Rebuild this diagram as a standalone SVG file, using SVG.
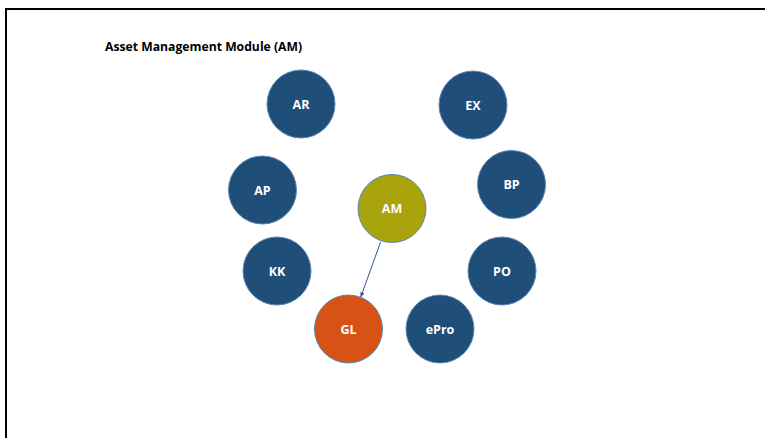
<svg xmlns="http://www.w3.org/2000/svg" width="765" height="438" viewBox="0 0 765 438">
<style>
.n{stroke:#5B86B5;stroke-width:1}
.blue{fill:#1F4E79}
.am{fill:#A9A30C}
.gl{fill:#D85216}
.lbl{font-family:"Open Sans","Liberation Sans",sans-serif;font-weight:bold;font-size:12.5px;fill:#FFFFFF;text-anchor:middle}
.title{font-family:"Open Sans","Liberation Sans",sans-serif;font-weight:bold;font-size:12.2px;fill:#000000}
</style>
<defs>
<marker id="ah" viewBox="0 0 10 10" refX="9" refY="5" markerWidth="5" markerHeight="5" orient="auto">
<path d="M0,1 L10,5 L0,9 z" fill="#2F5597"/>
</marker>
</defs>
<rect width="765" height="438" fill="#FFFFFF"/>
<path d="M6,438 V9 H765" fill="none" stroke="#000000" stroke-width="2"/>
<text class="title" x="105" y="51">Asset Management Module (AM)</text>
<g id="connectors">
<line x1="380.7" y1="241.7" x2="360.8" y2="297" stroke="#2F5597" stroke-width="1" marker-end="url(#ah)"/>
</g>
<g id="AR"><circle class="n blue" cx="301" cy="104" r="34"/><text class="lbl" x="301" y="108.5">AR</text></g>
<g id="EX"><circle class="n blue" cx="473" cy="105" r="34"/><text class="lbl" x="473" y="109.5">EX</text></g>
<g id="AP"><circle class="n blue" cx="262.5" cy="190" r="34"/><text class="lbl" x="262.5" y="194.5">AP</text></g>
<g id="BP"><circle class="n blue" cx="511.5" cy="184.5" r="34"/><text class="lbl" x="511.5" y="189">BP</text></g>
<g id="AM"><circle class="n am" cx="392" cy="208.5" r="34"/><text class="lbl" x="392" y="213">AM</text></g>
<g id="KK"><circle class="n blue" cx="277" cy="271" r="34"/><text class="lbl" x="277" y="275.5">KK</text></g>
<g id="PO"><circle class="n blue" cx="502" cy="271" r="34"/><text class="lbl" x="502" y="275.5">PO</text></g>
<g id="GL"><circle class="n gl" cx="348.5" cy="329" r="34"/><text class="lbl" x="348.5" y="333.5">GL</text></g>
<g id="ePro"><circle class="n blue" cx="440" cy="329" r="34"/><text class="lbl" x="440" y="333.5">ePro</text></g>
</svg>
